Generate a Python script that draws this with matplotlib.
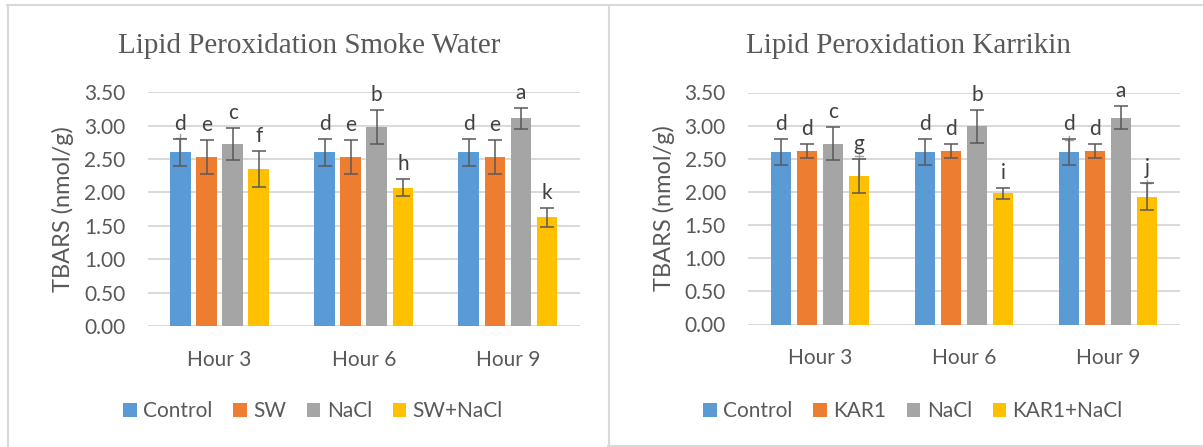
import numpy as np
import matplotlib
matplotlib.use("Agg")
import matplotlib.pyplot as plt
from matplotlib.lines import Line2D

plt.rcParams['font.family'] = ['Lato', 'DejaVu Sans']

hours = ["Hour 3", "Hour 6", "Hour 9"]
colors = ["#5B9BD5", "#ED7D31", "#A5A5A5", "#FFC000"]

# smoke water panel
sw_series = ["Control", "SW", "NaCl", "SW+NaCl"]
sw_vals = [[2.60, 2.60, 2.60],
           [2.53, 2.53, 2.53],
           [2.72, 2.98, 3.11],
           [2.35, 2.07, 1.63]]
sw_err = [[0.20, 0.20, 0.20],
          [0.25, 0.25, 0.25],
          [0.24, 0.25, 0.16],
          [0.27, 0.13, 0.14]]
sw_letters = [["d", "d", "d"],
              ["e", "e", "e"],
              ["c", "b", "a"],
              ["f", "h", "k"]]
# faint upper whisker seen on some bars (series, group, top value)
sw_extra = [(0, 0, 2.87)]

# karrikin panel
kar_series = ["Control", "KAR1", "NaCl", "KAR1+NaCl"]
kar_vals = [[2.60, 2.60, 2.60],
            [2.62, 2.62, 2.62],
            [2.73, 2.99, 3.12],
            [2.24, 1.98, 1.93]]
kar_err = [[0.20, 0.20, 0.20],
           [0.11, 0.11, 0.11],
           [0.25, 0.25, 0.17],
           [0.26, 0.08, 0.20]]
kar_letters = [["d", "d", "d"],
               ["d", "d", "d"],
               ["c", "b", "a"],
               ["g", "i", "j"]]
kar_extra = [(3, 0, 2.59), (3, 2, 2.18), (0, 2, 2.84)]

W, H = 1203, 447
fig = plt.figure(figsize=(W / 100, H / 100), dpi=100)

grey_txt = "#595959"
grid_c = "#D9D9D9"


def panel(rect, title, title_x, series, vals, errs, letters, extra, legend_x):
    ax = fig.add_axes(rect)
    x = np.arange(len(hours))
    bw = 0.1435
    step = 0.181
    for i, name in enumerate(series):
        xs = x + (i - 1.5) * step
        ax.bar(xs, vals[i], bw, color=colors[i], label=name, zorder=2)
        ax.errorbar(xs, vals[i], yerr=errs[i], fmt='none', ecolor=grey_txt,
                    elinewidth=1.1, capsize=4.7, capthick=1.1, zorder=4)
        for j in range(len(hours)):
            top = vals[i][j] + errs[i][j]
            ax.annotate(letters[i][j], (xs[j], top), xytext=(0, 6.5),
                        textcoords='offset points', ha='center', va='baseline',
                        fontsize=15, color="#404040", zorder=5)
    for i, j, t in extra:
        xx = x[j] + (i - 1.5) * step
        v = vals[i][j]
        ax.plot([xx, xx], [v, t], color="#A0A0A0", lw=1.0, zorder=3)
        ax.plot([xx - 0.03, xx + 0.03], [t - 0.05, t - 0.05], color="#A0A0A0", lw=1.0, zorder=3)

    ax.set_ylim(0, 3.5)
    ax.set_xlim(-0.5, 2.5)
    ax.set_yticks(np.arange(0, 3.51, 0.5))
    ax.set_yticklabels([f"{v:.2f}" for v in np.arange(0, 3.51, 0.5)])
    ax.set_xticks(x)
    ax.set_xticklabels(hours)
    ax.tick_params(axis='both', length=0, labelsize=15, colors=grey_txt)
    ax.tick_params(axis='y', pad=16)
    ax.tick_params(axis='x', pad=17)
    ax.yaxis.grid(True, color=grid_c, lw=1.4, zorder=0)
    ax.set_axisbelow(True)
    for s in ax.spines.values():
        s.set_visible(False)
    ax.set_ylabel("TBARS (nmol/g)", fontsize=17, color=grey_txt)
    ax.yaxis.set_label_coords(-0.17, 0.5)

    fig.text(title_x / W, 1 - 53 / H, title, ha='center', va='baseline',
             fontsize=21, color=grey_txt, family='Liberation Serif')

    ax.legend(loc='center', bbox_to_anchor=(legend_x / W, 1 - 411 / H),
              bbox_transform=fig.transFigure, ncol=4, frameon=False,
              fontsize=15, labelcolor=grey_txt, handlelength=0.65,
              handleheight=0.65, handletextpad=0.3, columnspacing=1.0)
    return ax


panel([147.5 / W, 1 - 326 / H, 432.5 / W, 233.7 / H],
      "Lipid Peroxidation Smoke Water", 309,
      sw_series, sw_vals, sw_err, sw_letters, sw_extra, 313)
panel([748 / W, 1 - 324.5 / H, 432 / W, 232 / H],
      "Lipid Peroxidation Karrikin", 908,
      kar_series, kar_vals, kar_err, kar_letters, kar_extra, 913)

# panel borders
bc = "#D9D9D9"
for xs, ys in [([7, W], [5, 5]), ([7.5, 7.5], [5, H]),
               ([608.5, 608.5], [5, H]), ([608, W], [446, 446])]:
    fig.add_artist(Line2D([v / W for v in xs], [1 - v / H for v in ys],
                          color=bc, lw=1.5, transform=fig.transFigure))

fig.savefig("out.png", dpi=100)
